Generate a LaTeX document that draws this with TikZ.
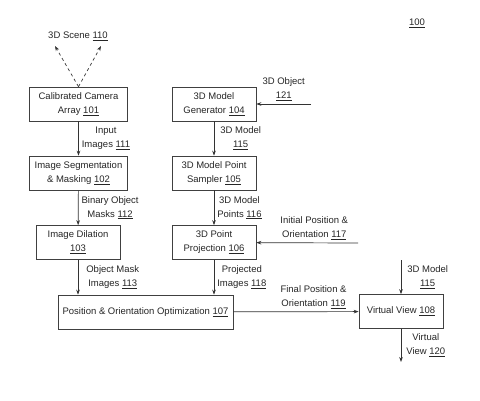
\documentclass[tikz,border=0pt]{standalone}
\usepackage{fontspec}
\setmainfont{Liberation Sans}
\usetikzlibrary{arrows.meta}
\usetikzlibrary{positioning}
\newcommand{\lbl}{\fontsize{9.5}{14}\selectfont}
\tikzset{x=1pt, y=-1pt,          % One unit is one pixel of the drawing, y going down
         blockbox/.style={        % Sets the properties for each block
           rectangle,
           draw=black!75,
           line width=0.7pt,
           align=center,
           inner sep=0pt,
           minimum height=34pt,
           text=black!85,
           font=\lbl},
         every edge/.style={      % Sets the properties for each connector
           draw=black!80,
           line width=0.7pt}}

\begin{document}
\begin{tikzpicture}
\useasboundingbox (0,0) rectangle (480,400);
\begin{scope}[every node/.style={blockbox}]
    \node[minimum width=98pt] (cam)  at (78.5,104) {Calibrated Camera\\Array \underline{101}};
    \node[minimum width=98pt] (seg)  at (78.5,173) {Image Segmentation\\\& Masking \underline{102}};
    \node[minimum width=84pt] (dil)  at (78,242.5) {Image Dilation\\\underline{103}};
    \node[minimum width=84pt] (gen)  at (214,104)  {3D Model\\Generator \underline{104}};
    \node[minimum width=84pt] (samp) at (214,173)  {3D Model Point\\Sampler \underline{105}};
    \node[minimum width=84pt] (proj) at (214,242.5) {3D Point\\Projection \underline{106}};
    \node[minimum width=175pt] (opt) at (145.5,312) {Position \& Orientation Optimization \underline{107}};
    \node[minimum width=84pt] (view) at (401,311.5) {Virtual View \underline{108}};
    % \node (scene) at (78,36) {3D Scene};
\end{scope}

\begin{scope}[every node/.style={align=center,inner sep=3pt,text=black!85,font=\lbl}]
    \node (scene) at (78,36) {3D Scene \underline{110}};
    \node (fig)   at (417,23) {\underline{100}};
\end{scope}

\coordinate (s1)  at (55,46);
\coordinate (s2)  at (101,46);
\coordinate (obj) at (311,104);
\coordinate (ini) at (358,243);
\coordinate (mdl) at (401,260);
\coordinate (out) at (401,362);

\begin{scope}[>={Stealth[length=5pt,width=3.6pt]},
              every node/.style={align=center,inner sep=3pt,text=black!85,font=\lbl}]
    \path [->, dashed] (cam.north) edge (s1);
    \path [->, dashed] (cam.north) edge (s2);
    \path [->] (cam) edge node[right] {Input\\Images \underline{111}} (seg);
    \path [->] (seg) edge node[right] {Binary Object\\Masks \underline{112}} (dil);
    \path [->] (dil) edge node[right,xshift=5pt] {Object Mask\\Images \underline{113}} (dil.south |- opt.north);
    \path [->] (obj) edge node[above] {3D Object\\\underline{121}} (gen);
    \path [->] (gen) edge node[right,xshift=3pt] {3D Model\\\underline{115}} (samp);
    \path [->] (samp) edge node[right] {3D Model\\Points \underline{116}} (proj);
    \path [->] (ini) edge node[above,pos=0.43] {Initial Position \&\\Orientation \underline{117}} (proj);
    \path [->] (proj) edge node[right] {Projected\\Images \underline{118}} (proj.south |- opt.north);
    \path [->] (opt) edge node[above,pos=0.64] {Final Position \&\\Orientation \underline{119}} (view);
    \path [->] (mdl) edge node[right,xshift=3pt] {3D Model\\\underline{115}} (view);
    \path [->] (view) edge node[right,xshift=2pt] {Virtual\\View \underline{120}} (out);
\end{scope}
\end{tikzpicture}
\end{document}
